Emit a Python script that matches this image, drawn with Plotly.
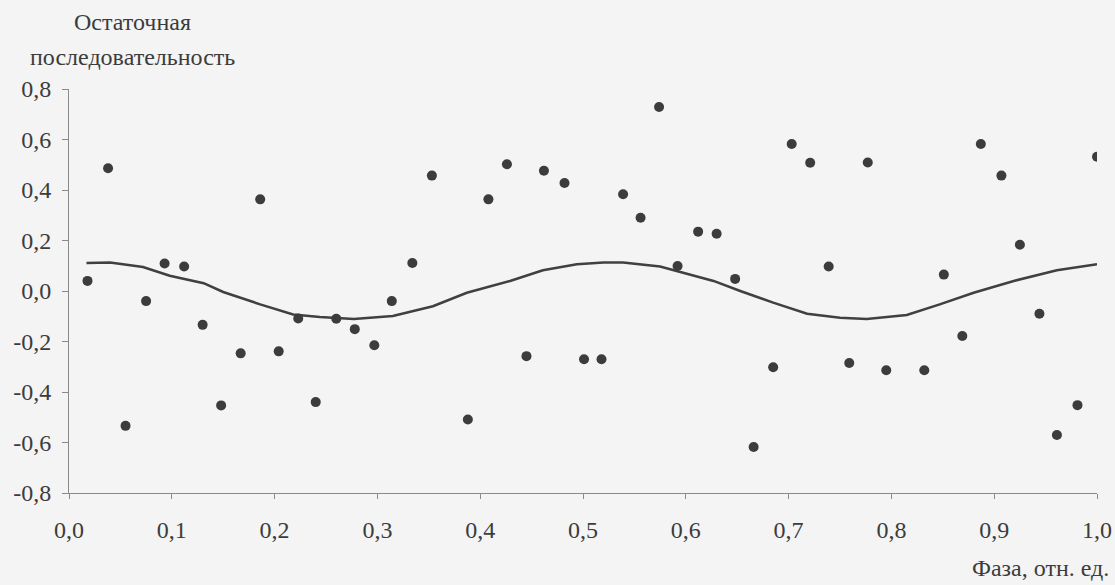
import plotly.graph_objects as go

# Residual sequence points (phase, value)
phase = [0.018, 0.038, 0.055, 0.075, 0.093, 0.112, 0.130, 0.148, 0.167, 0.186,
         0.204, 0.223, 0.240, 0.260, 0.278, 0.297, 0.314, 0.334, 0.353, 0.388,
         0.408, 0.426, 0.445, 0.462, 0.482, 0.501, 0.518, 0.539, 0.556, 0.574,
         0.592, 0.612, 0.630, 0.648, 0.666, 0.685, 0.703, 0.721, 0.739, 0.759,
         0.777, 0.795, 0.832, 0.851, 0.869, 0.887, 0.907, 0.925, 0.944, 0.961,
         0.981, 1.000]
residual = [0.040, 0.486, -0.534, -0.040, 0.109, 0.097, -0.134, -0.453, -0.247, 0.363,
            -0.239, -0.109, -0.440, -0.110, -0.151, -0.215, -0.040, 0.111, 0.457, -0.509,
            0.363, 0.502, -0.258, 0.476, 0.428, -0.270, -0.270, 0.383, 0.290, 0.729,
            0.099, 0.235, 0.227, 0.048, -0.618, -0.302, 0.582, 0.508, 0.097, -0.285,
            0.509, -0.314, -0.314, 0.065, -0.178, 0.582, 0.457, 0.183, -0.090, -0.570,
            -0.452, 0.532]

# Fitted curve
fit_x = [0.017, 0.040, 0.072, 0.098, 0.131, 0.150, 0.186, 0.218, 0.244, 0.277,
         0.315, 0.354, 0.387, 0.429, 0.461, 0.494, 0.520, 0.539, 0.575, 0.598,
         0.627, 0.653, 0.685, 0.718, 0.750, 0.776, 0.815, 0.847, 0.880, 0.919,
         0.961, 1.000]
fit_y = [0.111, 0.113, 0.095, 0.060, 0.031, -0.004, -0.053, -0.093, -0.103, -0.111,
         -0.099, -0.060, -0.007, 0.040, 0.082, 0.106, 0.113, 0.113, 0.097, 0.073,
         0.040, 0.000, -0.046, -0.090, -0.106, -0.111, -0.095, -0.053, -0.007, 0.040,
         0.082, 0.106]

x_ticks = [0.0, 0.1, 0.2, 0.3, 0.4, 0.5, 0.6, 0.7, 0.8, 0.9, 1.0]
x_tick_labels = ["0,0", "0,1", "0,2", "0,3", "0,4", "0,5", "0,6", "0,7", "0,8", "0,9", "1,0"]
y_ticks = [-0.8, -0.6, -0.4, -0.2, 0.0, 0.2, 0.4, 0.6, 0.8]
y_tick_labels = ["-0,8", "-0,6", "-0,4", "-0,2", "0,0", "0,2", "0,4", "0,6", "0,8"]

FONT = "Liberation Serif"
FS = 24
TXT = "#3c3c3c"
AX = "#8a8a8a"

L, R, T, B = 69, 18, 89, 92
PW = 1115 - L - R
PH = 585 - T - B


def px_x(p):
    return (p - L) / PW


def px_y(p):
    return (585 - B - p) / PH


fig = go.Figure()
fig.add_trace(go.Scatter(x=fit_x, y=fit_y, mode="lines",
                         line=dict(color="#404040", width=2.6), showlegend=False))
fig.add_trace(go.Scatter(x=phase, y=residual, mode="markers",
                         marker=dict(color="#3c3c3c", size=10), showlegend=False))

fig.update_layout(
    width=1115, height=585,
    margin=dict(l=L, r=R, t=T, b=B, autoexpand=False),
    paper_bgcolor="#f4f4f4", plot_bgcolor="#f4f4f4",
    font=dict(family=FONT, size=FS, color=TXT),
    xaxis=dict(range=[0, 1], tickvals=x_ticks, ticktext=x_tick_labels, automargin=False,
               showgrid=False, zeroline=False, showline=True, linecolor=AX, linewidth=1,
               ticks="outside", ticklen=5, tickcolor=AX, ticklabelstandoff=10),
    yaxis=dict(range=[-0.8, 0.8], tickvals=y_ticks, ticktext=y_tick_labels, automargin=False,
               showgrid=False, zeroline=False, showline=True, linecolor=AX, linewidth=1,
               ticks="outside", ticklen=6, tickcolor=AX, ticklabelstandoff=6),
    annotations=[
        dict(text="Остаточная", xref="paper", yref="paper", x=px_x(132),
             y=px_y(22), xanchor="center", yanchor="middle", showarrow=False),
        dict(text="последовательность", xref="paper", yref="paper", x=px_x(132),
             y=px_y(57), xanchor="center", yanchor="middle", showarrow=False),
        dict(text="Фаза, отн. ед.", xref="paper", yref="paper", x=px_x(1111),
             y=px_y(568), xanchor="right", yanchor="middle", showarrow=False),
    ],
)

fig.write_html("out.html", config={"displayModeBar": False},
               post_script="document.body.style.margin='0';document.body.style.background='#f4f4f4';")
